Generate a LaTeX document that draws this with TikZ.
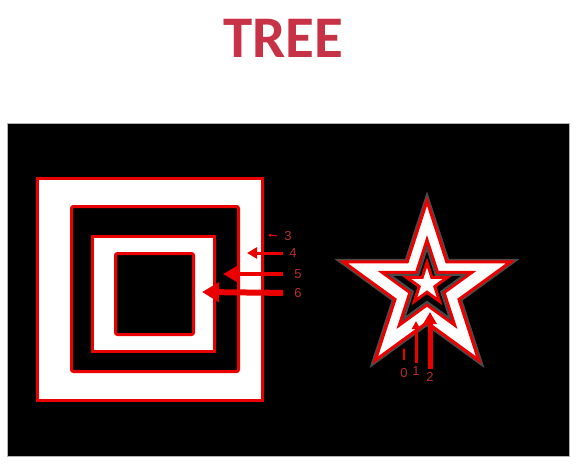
\documentclass[tikz,border=0pt]{standalone}
\usepackage{fontspec}
\usepackage{tikz}
\usetikzlibrary{arrows.meta,positioning,shapes.geometric}
\setsansfont{Liberation Sans}
\newfontfamily\titlefont{Carlito}
\definecolor{treered}{RGB}{200,50,70}
\definecolor{lblred}{RGB}{185,45,45}
\definecolor{edgered}{RGB}{235,0,0}
\definecolor{halo}{RGB}{75,75,75}

\begin{document}
\begin{tikzpicture}[
    x=1pt, y=-1pt,
    sq/.style={draw=edgered, line width=3pt, inner sep=0pt},
    st/.style={star, star points=5, star point ratio=2.618, draw=edgered, line width=3pt, inner sep=0pt},
    lbl/.style={text=lblred, font=\sffamily\fontsize{13}{13}\selectfont, inner sep=3pt},
    arr/.style={draw=edgered}
  ]
  \useasboundingbox (0,0) rectangle (578,468);
  \fill[white] (0,0) rectangle (578,468);
  \node[font=\titlefont\bfseries\fontsize{59}{62}\selectfont, text=treered, anchor=base] (title) at (283,58) {TREE};
  \fill[black, draw=gray!60] (7,123) rectangle (569,456);

  % squares
  \node[sq, fill=white, minimum width=225pt, minimum height=222pt] (sqA) at (150,289.5) {};
  \node[sq, fill=black, rounded corners=2pt, minimum width=167pt, minimum height=165pt] (sqB) at (155,289) {};
  \node[sq, fill=white, minimum width=122pt, minimum height=115pt] (sqC) at (153.5,294) {};
  \node[sq, fill=black, rounded corners=2pt, minimum width=78pt, minimum height=81pt] (sqD) at (154.5,294) {};

  % stars
  \node[st, fill=white, minimum size=176pt, preaction={draw=halo, line width=6pt}] (starA) at (427,289) {};
  \node[st, fill=black, minimum size=94pt] (starB) at (427,287) {};
  \node[st, draw=halo, line width=2pt, fill=black, minimum size=78pt] (starBin) at (427,287) {};
  \node[st, fill=white, minimum size=43pt] (starC) at (427,284) {};

  % labels and arrows, squares
  \node[lbl] (l3) at (288,236) {3};
  \node[lbl] (l4) at (293,253) {4};
  \node[lbl] (l5) at (298,274) {5};
  \node[lbl] (l6) at (298,293) {6};
  \coordinate (t3) at (268,235);
  \coordinate (t4) at (247,253);
  \coordinate (t5) at (223,274);
  \coordinate (t6) at (202,292);
  \draw[arr, line width=1pt, -{Triangle[length=3pt,width=3pt]}, shorten <=4pt] (l3.west) -- (t3);
  \draw[arr, line width=3pt, -{Triangle[length=10pt,width=11pt]}, shorten <=3pt] (l4.west) -- (t4);
  \draw[arr, line width=4.5pt, -{Triangle[length=14pt,width=15pt]}, shorten <=8pt] (l5.west) -- (t5);
  \draw[arr, line width=6pt, -{Triangle[length=17pt,width=19pt]}, shorten <=8pt] (l6.west) -- (t6);

  % labels and arrows, stars
  \node[lbl] (l0) at (404,373) {0};
  \node[lbl] (l1) at (416,371) {1};
  \node[lbl] (l2) at (430,377) {2};
  \coordinate (t0) at (404,348);
  \coordinate (t1) at (416,321);
  \coordinate (t2) at (430,312);
  \draw[arr, line width=1.2pt, -{Triangle[length=3pt,width=3pt]}, shorten <=5pt] (l0.north) -- (t0);
  \draw[arr, line width=3pt, -{Triangle[length=8pt,width=8pt]}] (l1.north) -- (t1);
  \draw[arr, line width=5pt, -{Triangle[length=12pt,width=13pt]}] (l2.north) -- (t2);
\end{tikzpicture}
\end{document}
